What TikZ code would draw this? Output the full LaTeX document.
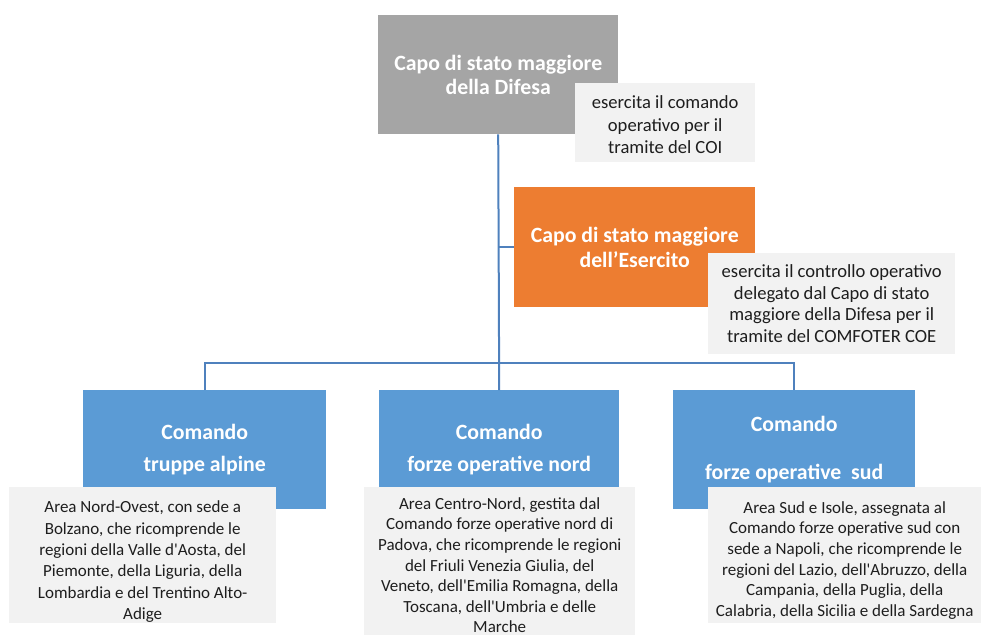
\documentclass[tikz,border=0pt]{standalone}
\usepackage{fontspec}
\setmainfont{Carlito}[Ligatures=TeXOff]
\definecolor{cgray}{RGB}{165,165,165}
\definecolor{corange}{RGB}{237,125,49}
\definecolor{cblue}{RGB}{91,155,213}
\definecolor{cnote}{RGB}{242,242,242}
\definecolor{cline}{RGB}{79,129,189}
\definecolor{ctext}{RGB}{30,30,30}
\newcommand{\lowerby}[1]{\rule{0pt}{#1}}
\begin{document}
\begin{tikzpicture}[x=1pt,y=-1pt,
  box/.style={anchor=north west,inner sep=0pt,align=center,text=white,
    font=\fontsize{21.8}{24.5}\selectfont\bfseries},
  note/.style={anchor=north west,fill=cnote,inner sep=0pt,align=center,text=ctext,
    font=\fontsize{18.6}{22.5}\selectfont},
  conn/.style={draw=cline,line width=2pt}]
\useasboundingbox (0,0) rectangle (981,637);
% boxes
\node[box,fill=cgray,minimum width=240pt,minimum height=119pt] (top) at (378,15)
  {Capo di stato maggiore\\della Difesa};
\node[box,fill=corange,minimum width=241pt,minimum height=120pt] (ese) at (514,187)
  {Capo di stato maggiore\\dell’Esercito};
\node[box,fill=cblue,minimum width=243pt,minimum height=119pt] (b1) at (83,390)
  {Comando\\[8pt]truppe alpine};
\node[box,fill=cblue,minimum width=240pt,minimum height=119pt] (b2) at (379,390)
  {Comando\\[8pt]forze operative nord};
\node[box,fill=cblue,minimum width=242pt,minimum height=119pt] (b3) at (673,390)
  {Comando\\[23pt]forze operative\ \ sud};
% connectors
\coordinate (bus) at (499,363);
\draw[conn] (top.south) -- (b2.north);
\draw[conn] (ese.west) -- (ese.west -| top.south);
\draw[conn] (b1.north) |- (bus) -| (b3.north);
% notes
\node[note,minimum width=180pt,minimum height=79pt] (n1) at (575,83)
  {\lowerby{17pt}esercita il comando\\operativo per il\\tramite del COI};
\node[note,minimum width=247pt,minimum height=101pt,font=\fontsize{18.6}{21.7}\selectfont] (n2) at (708,253)
  {esercita il controllo operativo\\delegato dal Capo di stato\\maggiore della Difesa per il\\tramite del COMFOTER COE};
\node[note,minimum width=267pt,minimum height=136pt,font=\fontsize{17}{21.4}\selectfont] (n3) at (9,487)
  {\lowerby{25pt}Area Nord-Ovest, con sede a\\Bolzano, che ricomprende le\\regioni della Valle d'Aosta, del\\Piemonte, della Liguria, della\\Lombardia e del Trentino Alto-\\Adige};
\node[note,minimum width=271pt,minimum height=148pt,font=\fontsize{17}{20.6}\selectfont] (n4) at (364,487)
  {\lowerby{20pt}Area Centro-Nord, gestita dal\\Comando forze operative nord di\\Padova, che ricomprende le regioni\\del Friuli Venezia Giulia, del\\Veneto, dell'Emilia Romagna, della\\Toscana, dell'Umbria e delle\\Marche};
\node[note,minimum width=273pt,minimum height=136pt,font=\fontsize{17}{20.7}\selectfont] (n5) at (708,487)
  {\lowerby{22pt}Area Sud e Isole, assegnata al\\Comando forze operative sud con\\sede a Napoli, che ricomprende le\\regioni del Lazio, dell'Abruzzo, della\\Campania, della Puglia, della\\Calabria, della Sicilia e della Sardegna};
\end{tikzpicture}
\end{document}
